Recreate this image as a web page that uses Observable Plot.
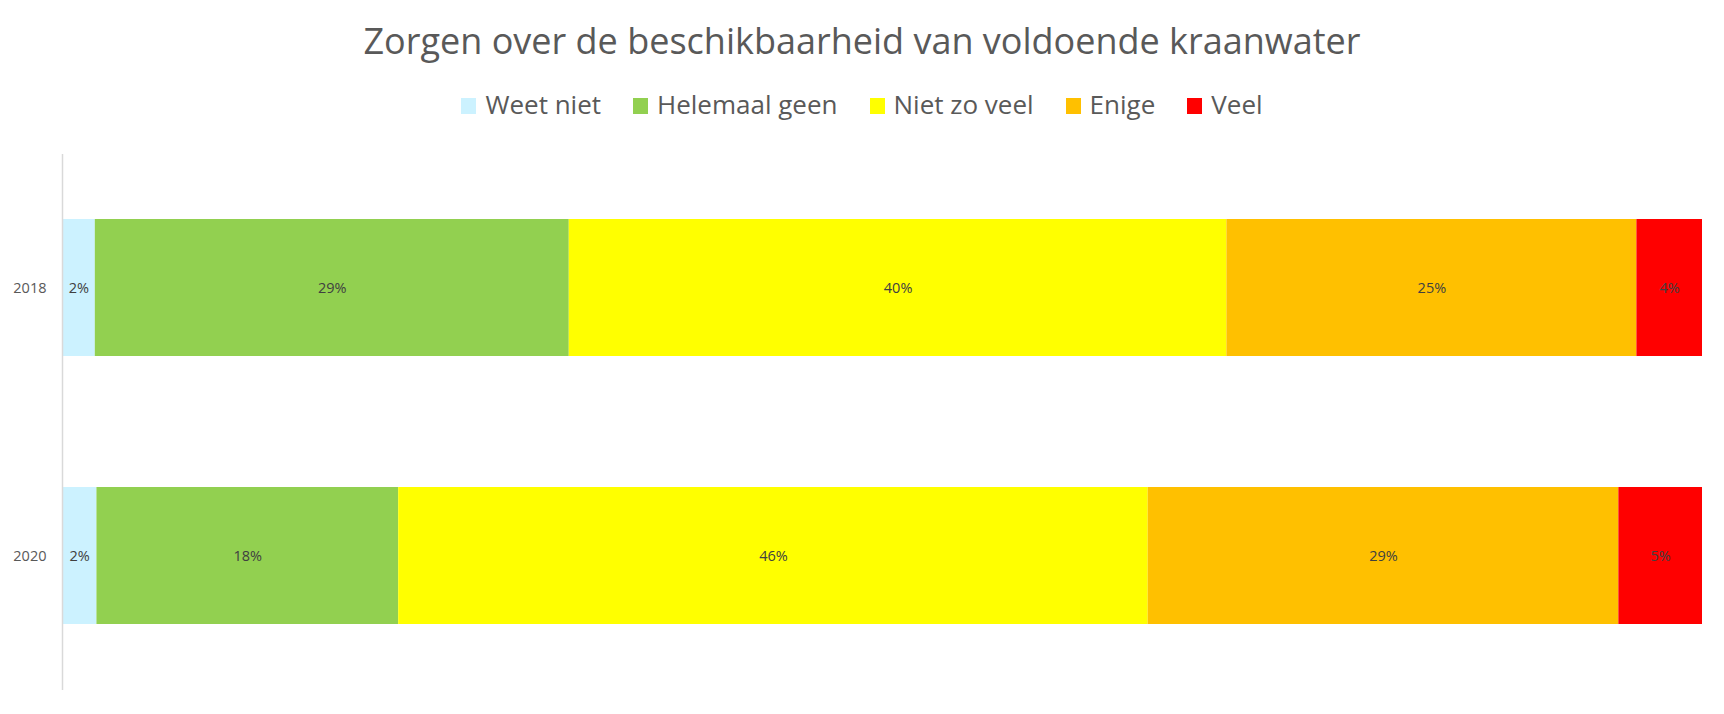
<!DOCTYPE html>
<html>
<head>
<meta charset="utf-8">
<script src="https://cdn.jsdelivr.net/npm/d3@7"></script>
<script src="https://cdn.jsdelivr.net/npm/@observablehq/plot@0.6"></script>
<style>
  html, body { margin: 0; padding: 0; background: #fff; overflow: hidden; }
  body { width: 1724px; height: 714px; font-family: "Open Sans", sans-serif; color: #595959; }
  #header { position: relative; width: 1724px; height: 130px; }
  #title { position: absolute; top: 23px; left: 0; width: 1724px; text-align: center;
           font-size: 36px; line-height: 36px; color: #595959; white-space: nowrap; }
  #legend { position: absolute; top: 91px; left: 0; width: 1724px; display: flex;
            justify-content: center; gap: 32px; font-size: 26px; line-height: 26px; color: #595959; }
  .item { display: flex; align-items: flex-start; white-space: nowrap; }
  .sw { display: inline-block; width: 15px; height: 16px; margin-top: 7px; margin-right: 9px; }
  #chart svg { display: block; }
</style>
</head>
<body>
<div id="header">
  <div id="title"></div>
  <div id="legend"></div>
</div>
<div id="chart"></div>
<script>
const titleText = "Zorgen over de beschikbaarheid van voldoende kraanwater";
const years = ["2018", "2020"];
const categories = ["Weet niet", "Helemaal geen", "Niet zo veel", "Enige", "Veel"];
const colors = ["#CCF2FF", "#92D050", "#FFFF00", "#FFC000", "#FF0000"];
const values2018 = [2.0, 28.9, 40.1, 25.0, 4.0];
const values2020 = [2.1, 18.4, 45.7, 28.7, 5.1];

const series = [values2018, values2020];
const data = [];
years.forEach((yr, i) => {
  categories.forEach((cat, j) => {
    data.push({year: yr, category: cat, value: series[i][j]});
  });
});

document.getElementById("title").textContent = titleText;
const legend = document.getElementById("legend");
categories.forEach((cat, j) => {
  const it = document.createElement("div");
  it.className = "item";
  const sw = document.createElement("span");
  sw.className = "sw";
  sw.style.background = colors[j];
  const tx = document.createElement("span");
  tx.textContent = cat;
  it.appendChild(sw);
  it.appendChild(tx);
  legend.appendChild(it);
});

const chart = Plot.plot({
  width: 1724,
  height: 584,
  marginTop: 24,
  marginBottom: 24,
  marginLeft: 62,
  marginRight: 22,
  style: {fontFamily: "'Open Sans', sans-serif", fontSize: "14.5px", color: "#595959", background: "#fff"},
  x: {domain: [0, 100], axis: null},
  y: {domain: years, paddingInner: 0.487, paddingOuter: 0.2435, label: null, tickSize: 0, tickPadding: 16},
  color: {domain: categories, range: colors},
  marks: [
    Plot.barX(data, Plot.stackX({x: "value", y: "year", fill: "category"})),
    Plot.text(data, Plot.stackX({x: "value", y: "year", z: "category",
      text: d => Math.round(d.value) + "%", fill: "#404040", fontSize: 14.5})),
    Plot.ruleX([0], {stroke: "#D9D9D9", strokeWidth: 1.5})
  ]
});
document.getElementById("chart").appendChild(chart);
</script>
</body>
</html>
